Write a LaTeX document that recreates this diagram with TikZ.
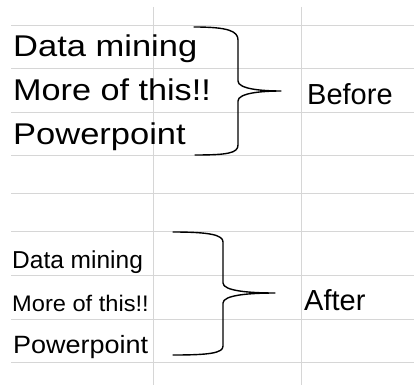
\documentclass[tikz,border=0pt]{standalone}
\usepackage{fontspec}
\setmainfont{Liberation Sans}
\usepackage{tikz}
\usetikzlibrary{positioning}
\tikzstyle{gridline} = [draw=black!16, line width=0.9pt]
\tikzstyle{entry} = [anchor=base west, inner sep=0pt, text=black]
\tikzstyle{bracket} = [draw=black, line width=1.4pt, line cap=round, line join=round]
\newcommand{\wide}[2]{\scalebox{#1}[1]{#2}}
\newcommand{\fs}[1]{\fontsize{#1}{#1}\selectfont}

\begin{document}
\begin{tikzpicture}[x=1pt, y=-1pt]
	\useasboundingbox (0,0) rectangle (414,385);
	% sheet grid
	\foreach \r in {25,68,112,155,193,231,275,319,362}
		\draw [gridline] (11,\r) -- (414,\r);
	\foreach \c in {153,301}
		\draw [gridline] (\c,7) -- (\c,385);
	% before
	\node (bdata) [entry] at (13,57) {\fs{30}\wide{1.15}{Data mining}};
	\node (bmore) [entry] at (13,100) {\fs{30}\wide{1.14}{More of this!!}};
	\node (bpower) [entry] at (13,144) {\fs{30}\wide{1.15}{Powerpoint}};
	\node (before) [entry] at (307,104) {\fs{29}Before};
	\coordinate (btop) at (194,27);
	\coordinate (btip) at (281,91);
	\coordinate (bbot) at (195,155);
	\draw [bracket] (btop) .. controls (228,27) and (238,31) .. (238,40)
		-- (238,81) .. controls (238,89) and (262,91) .. (btip)
		.. controls (262,91) and (238,93) .. (238,101)
		-- (238,145) .. controls (238,153) and (228,155) .. (bbot);
	% after
	\node (adata) [entry] at (12,268) {\fs{24.5}Data mining};
	\node (amore) [entry] at (12,311) {\fs{22.5}\wide{1.05}{More of this!!}};
	\node (apower) [entry] at (13,353) {\fs{25}\wide{1.08}{Powerpoint}};
	\node (after) [entry] at (304,310) {\fs{29}After};
	\coordinate (atop) at (173,232);
	\coordinate (atip) at (275,293);
	\coordinate (abot) at (173,355);
	\draw [bracket] (atop) .. controls (210,232) and (223,235) .. (223,242)
		-- (223,283) .. controls (223,291) and (250,293) .. (atip)
		.. controls (250,293) and (223,295) .. (223,303)
		-- (223,346) .. controls (223,353) and (210,355) .. (abot);
\end{tikzpicture}
\end{document}
